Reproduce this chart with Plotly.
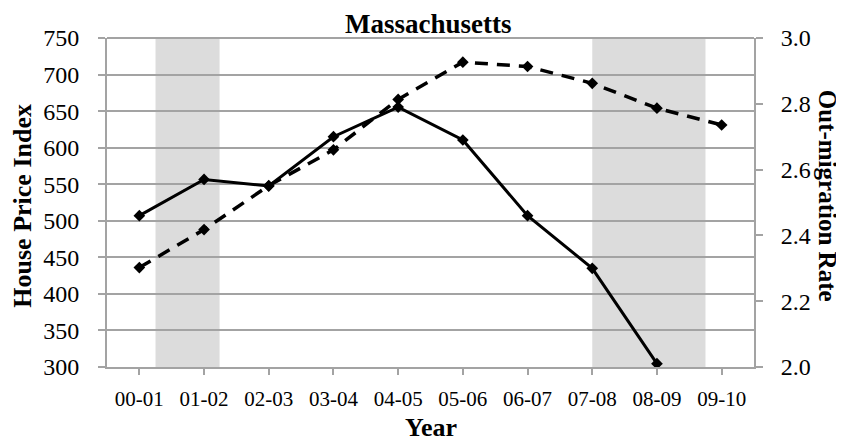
import plotly.graph_objects as go

years = ["00-01", "01-02", "02-03", "03-04", "04-05",
         "05-06", "06-07", "07-08", "08-09", "09-10"]
# house price index (left axis, dashed)
hpi = [436, 488, 548, 597, 666, 717, 711, 688, 654, 631]
# out-migration rate (right axis, solid), no value for 09-10
out_rate = [2.46, 2.57, 2.55, 2.70, 2.79, 2.69, 2.46, 2.30, 2.01, None]
# shaded recession bands, in category positions
bands = [(0.25, 1.24), (7.0, 8.75)]

serif = "Liberation Serif, Times New Roman, DejaVu Serif, serif"
grey = "#a3a3a3"

# page body has an 8px margin, so the figure is 8px smaller and margins are shifted
W, H = 836, 436
L, R, T, B = 99, 90, 30, 77

fig = go.Figure()

fig.add_trace(go.Scatter(
    x=list(range(len(years))), y=hpi, mode="lines+markers",
    line=dict(color="black", width=3.5, dash="13px,9px"),
    marker=dict(symbol="diamond", size=9, color="black"),
    showlegend=False))

fig.add_trace(go.Scatter(
    x=list(range(len(years))), y=out_rate, mode="lines+markers", yaxis="y2",
    line=dict(color="black", width=3),
    marker=dict(symbol="diamond", size=9, color="black"),
    showlegend=False))

for x0, x1 in bands:
    fig.add_shape(type="rect", xref="x", yref="paper", x0=x0, x1=x1, y0=0, y1=1,
                  fillcolor="#dcdcdc", line_width=0, layer="below")

fig.update_layout(
    width=W, height=H,
    margin=dict(l=L, r=R, t=T, b=B, autoexpand=False),
    paper_bgcolor="white", plot_bgcolor="white",
    font=dict(family=serif, color="black"),
    annotations=[
        dict(text="<b>Massachusetts</b>", xref="paper", yref="paper",
             x=0.497, y=1, yshift=14, showarrow=False,
             xanchor="center", yanchor="middle",
             font=dict(size=27, family=serif)),
        dict(text="<b>House Price Index</b>", xref="paper", yref="paper",
             x=-0.13, y=0.49, textangle=-90, showarrow=False,
             xanchor="center", yanchor="middle",
             font=dict(size=26, family=serif)),
        dict(text="<b>Out-migration Rate</b>", xref="paper", yref="paper",
             x=1.113, y=0.52, textangle=90, showarrow=False,
             xanchor="center", yanchor="middle",
             font=dict(size=25, family=serif)),
        dict(text="<b>Year</b>", xref="paper", yref="paper",
             x=0.501, y=-0.185, showarrow=False,
             xanchor="center", yanchor="middle",
             font=dict(size=26, family=serif)),
    ],
    xaxis=dict(
        range=[-0.5, 9.5], tickmode="array",
        tickvals=list(range(len(years))), ticktext=years,
        ticks="outside", ticklen=6, tickcolor=grey, tickwidth=1.5,
        showline=True, linecolor=grey, linewidth=1.8,
        showgrid=False, zeroline=False, automargin=False,
        tickfont=dict(size=21, family=serif), ticklabelstandoff=6,
    ),
    yaxis=dict(
        range=[300, 750], dtick=50,
        ticks="outside", ticklen=7, tickcolor=grey, tickwidth=1.5,
        showline=True, linecolor=grey, linewidth=1.8,
        gridcolor=grey, gridwidth=1.8, zeroline=False, automargin=False,
        tickfont=dict(size=24, family=serif), ticklabelstandoff=14,
    ),
    yaxis2=dict(
        range=[2.0, 3.0], dtick=0.2, tickformat=".1f",
        overlaying="y", side="right",
        ticks="outside", ticklen=7, tickcolor=grey, tickwidth=1.5,
        showline=True, linecolor=grey, linewidth=1.8,
        showgrid=False, zeroline=False, automargin=False,
        tickfont=dict(size=24, family=serif), ticklabelstandoff=13,
    ),
)

# top border of the plot area
fig.add_shape(type="line", xref="paper", yref="paper", x0=0, x1=1, y0=1, y1=1,
              line=dict(color=grey, width=1.8))

fig.write_html("out.html")
